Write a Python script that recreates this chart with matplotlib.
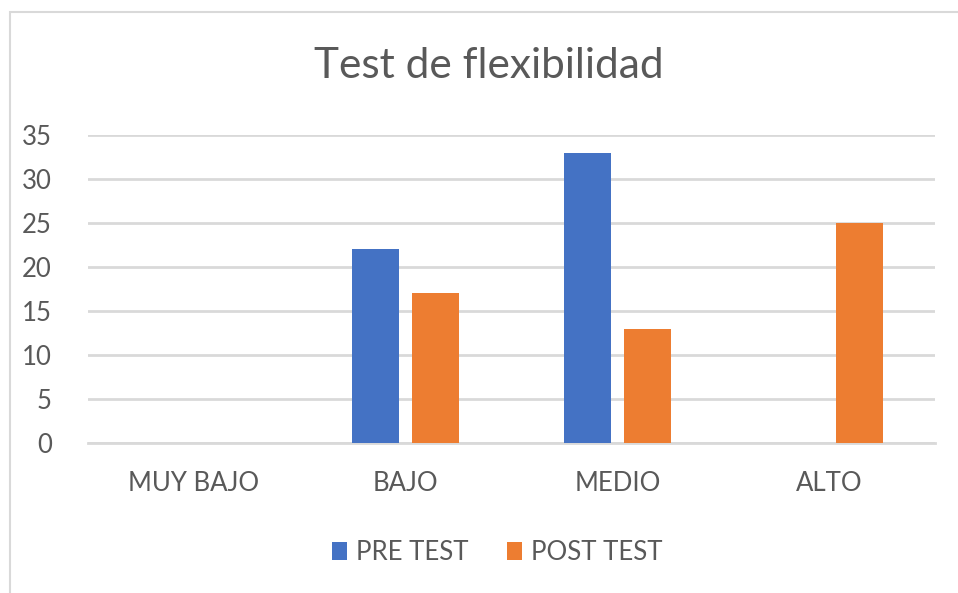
import matplotlib
matplotlib.use("Agg")
import matplotlib.pyplot as plt
from matplotlib.patches import Rectangle
import numpy as np

categories = ["MUY BAJO", "BAJO", "MEDIO", "ALTO"]
pre_test = [0, 22, 33, 0]
post_test = [0, 17, 13, 25]
series_names = ["PRE TEST", "POST TEST"]
yticks = [0, 5, 10, 15, 20, 25, 30, 35]

W, H = 958, 593
plt.rcParams['font.family'] = ['Lato', 'DejaVu Sans']
fig = plt.figure(figsize=(W/100, H/100), dpi=100)

# chart border (only left & top visible in crop)
fig.patches.append(Rectangle((10/W, -0.1), 1.2, (H-12)/H + 0.1, transform=fig.transFigure,
                             fill=False, edgecolor='#d9d9d9', linewidth=1.5))

left, right = 88, 935
top, bottom = 135, 443
ax = fig.add_axes([left/W, 1 - bottom/H, (right-left)/W, (bottom-top)/H])

x = np.arange(len(categories))
bw = 0.222
off = 0.143
ax.bar(x - off, pre_test, bw, color='#4472C4', label=series_names[0], zorder=3)
ax.bar(x + off, post_test, bw, color='#ED7D31', label=series_names[1], zorder=3)

ax.set_xlim(-0.5, 3.5)
ax.set_ylim(0, 35)
ax.set_yticks(yticks)
ax.yaxis.grid(True, color='#d9d9d9', linewidth=2, zorder=0)
ax.set_axisbelow(True)
for s in ['top', 'right', 'left']:
    ax.spines[s].set_visible(False)
ax.spines['bottom'].set_color('#d9d9d9')
ax.spines['bottom'].set_linewidth(2)
ax.set_xticks(x)
ax.set_xticklabels(categories)
ax.tick_params(axis='both', length=0, labelsize=18.5, labelcolor='#595959')
ax.tick_params(axis='x', pad=20)
ax.tick_params(axis='y', pad=26)
for lbl in ax.get_yticklabels():
    lbl.set_horizontalalignment('right')

fig.text(489/W, 1 - 66/H, "Test de flexibilidad", ha='center', va='center',
         fontsize=30.5, color='#595959')

leg = fig.legend(loc='center', bbox_to_anchor=(497/W, 1 - 552/H), ncol=2, frameon=False,
                 fontsize=18.5, labelcolor='#595959', handlelength=0.58, handleheight=0.7,
                 handletextpad=0.35, columnspacing=1.5)

fig.savefig("out.png", dpi=100, facecolor='white')
